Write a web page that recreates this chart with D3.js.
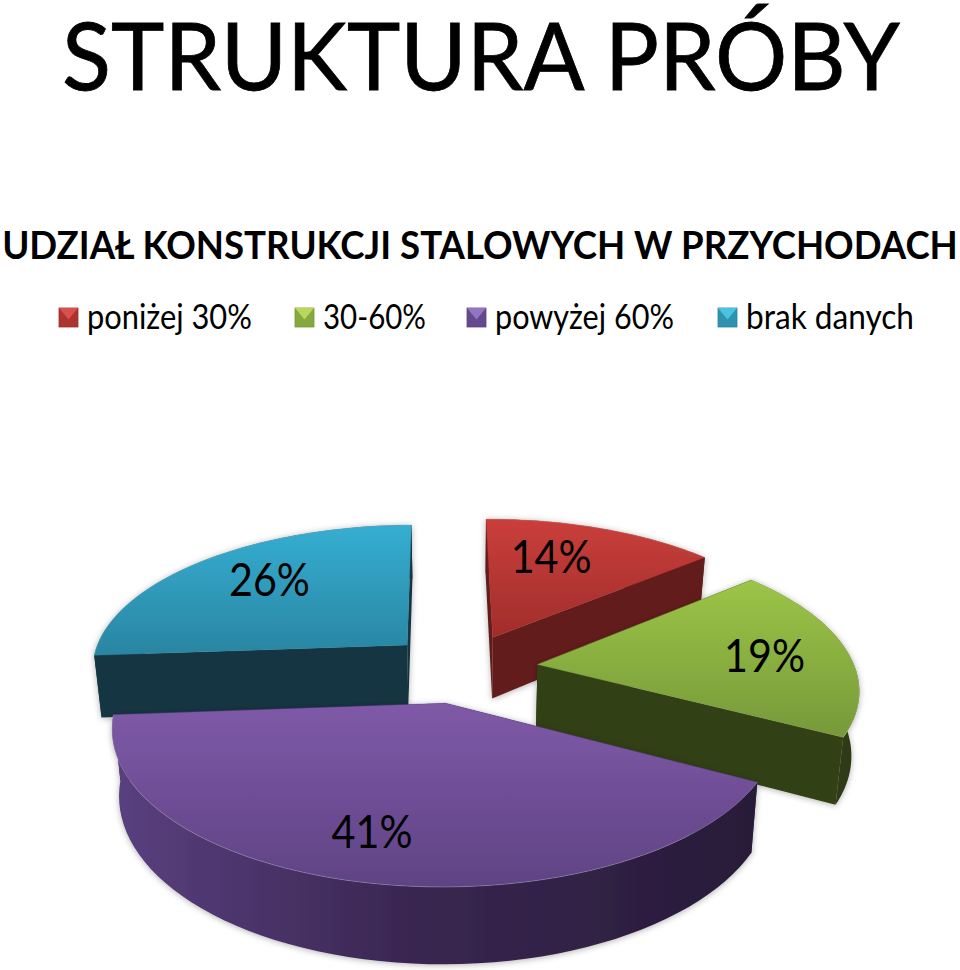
<!DOCTYPE html>
<html lang="pl">
<head>
<meta charset="utf-8">
<title>Struktura próby</title>
<script src="https://cdn.jsdelivr.net/npm/d3@7"></script>
<style>
  html, body { margin: 0; padding: 0; background: #fff; }
  svg { display: block; }
  text { font-family: Lato, "Open Sans", sans-serif; fill: #000; }
</style>
</head>
<body>
<svg id="chart" width="960" height="970" viewBox="0 0 960 970"></svg>
<script>
const title = 'STRUKTURA PRÓBY';
const subtitle = 'UDZIAŁ KONSTRUKCJI STALOWYCH W PRZYCHODACH';
const categories = ['poniżej 30%', '30-60%', 'powyżej 60%', 'brak danych'];
const values = [14, 19, 41, 26];

const topLight = ['#ca3f3b', '#9cc547', '#7f5aa8', '#35aed2'];
const topDark = ['#a02d2b', '#76993a', '#5f4384', '#2a85a1'];
const wallFlat = ['#631e1c', '#334116', '#3a2752', '#123642'];
const wallLight = ['#7a2624', '#3f5019', '#5a4080', '#1a4d5c'];
const wallDark = ['#551917', '#2c3812', '#281b38', '#103038'];
const bevelLight = ['#d9504c', '#b8d85c', '#9276c0', '#4cc2e2'];
const bevelBase = ['#ab3431', '#85a83f', '#64498f', '#2f93b0'];

// layout of the perspective
const cx = 462, cy = 668;
const radius = 317.5, radiusY = 144.5;
const tilt = 0.15, explode = 0.24;
const depth = 63, shrink = 0.98;
const rotation = 0.6 * Math.PI / 180;

const legendX = [59, 295, 467, 718];
const legendTextW = [165, 103, 179, 168];
const labelNudge = [[-21, -2], [10, 2], [-18, 10], [8, -4]];

const svg = d3.select('#chart');
const defs = svg.append('defs');

const shadow = defs.append('filter').attr('id', 'shadow')
  .attr('x', '-10%').attr('y', '-10%').attr('width', '120%').attr('height', '120%');
shadow.append('feDropShadow')
  .attr('dx', 0).attr('dy', 1).attr('stdDeviation', 3)
  .attr('flood-color', '#000').attr('flood-opacity', 0.3);

// plane coordinates -> screen, z 0 is the top face and 1 the bottom face
const project = (X, Y, z = 0) => {
  const w = 1 - tilt * Y;
  const x = radius * X / w;
  const y = radiusY * Y / w;
  return z
    ? [cx + x * shrink, cy + y + depth / w]
    : [cx + x, cy + y];
};

// squeeze a text sideways to the width it has in the picture
const fitText = (sel, x, y, width) => sel.each(function (d, i) {
  const k = width(d, i) / this.getComputedTextLength();
  d3.select(this).attr('transform', `translate(${x(d, i)},${y(d, i)}) scale(${k},1)`);
});

const pie = d3.pie().sort(null).startAngle(-rotation).endAngle(2 * Math.PI - rotation);
const slices = pie(values);
const line = d3.line();

slices.forEach((s, i) => {
  const mid = (s.startAngle + s.endAngle) / 2;
  s.ox = explode * Math.sin(mid);
  s.oy = -explode * Math.cos(mid);
  s.mid = mid;
  s.point = (a, r, z) => project(s.ox + r * Math.sin(a), s.oy - r * Math.cos(a), z);
  s.angles = d3.range(0, 61).map(k => s.startAngle + (s.endAngle - s.startAngle) * k / 60);

  const top = defs.append('linearGradient').attr('id', `top${i}`)
    .attr('x1', 0).attr('y1', 0).attr('x2', 0).attr('y2', 1);
  top.append('stop').attr('offset', '0%').attr('stop-color', topLight[i]);
  top.append('stop').attr('offset', '100%').attr('stop-color', topDark[i]);

  const wall = defs.append('linearGradient').attr('id', `wall${i}`)
    .attr('x1', 0).attr('y1', 0).attr('x2', 1).attr('y2', 0);
  wall.append('stop').attr('offset', '0%').attr('stop-color', wallLight[i]);
  wall.append('stop').attr('offset', '45%').attr('stop-color', wallFlat[i]);
  wall.append('stop').attr('offset', '100%').attr('stop-color', wallDark[i]);
});

// back to front
const drawOrder = [0, 3, 1, 2];

drawOrder.forEach(i => {
  const s = slices[i];
  const g = svg.append('g').attr('class', 'slice').attr('filter', 'url(#shadow)');

  const arcTop = s.angles.map(a => s.point(a, 1, 0));
  const arcBottom = s.angles.map(a => s.point(a, 1, 1)).reverse();

  const drawArcWall = () => g.append('path')
    .attr('d', line(arcTop.concat(arcBottom)) + 'Z')
    .attr('fill', `url(#wall${i})`);

  const drawCutWalls = () => [s.startAngle, s.endAngle].forEach(a => {
    const pts = [s.point(a, 0, 0), s.point(a, 1, 0), s.point(a, 1, 1), s.point(a, 0, 1)];
    g.append('path').attr('d', line(pts) + 'Z').attr('fill', wallFlat[i]);
  });

  // a slice facing the viewer shows its outer wall in front of the cuts
  if (Math.cos(s.mid) < -0.5) {
    drawCutWalls();
    drawArcWall();
  } else {
    drawArcWall();
    drawCutWalls();
  }

  // top face
  const face = [s.point(0, 0, 0)].concat(arcTop);
  g.append('path')
    .attr('d', line(face) + 'Z')
    .attr('fill', `url(#top${i})`)
    .attr('stroke', topDark[i])
    .attr('stroke-width', 0.6)
    .attr('stroke-opacity', 0.6);

  // pale rim where the top meets the outer wall
  g.append('path')
    .attr('d', line(arcTop))
    .attr('fill', 'none')
    .attr('stroke', '#fff')
    .attr('stroke-width', 0.8)
    .attr('stroke-opacity', 0.25);
});

// value labels
svg.append('g').selectAll('text')
  .data(slices)
  .join('text')
  .attr('text-anchor', 'middle')
  .attr('font-size', 46)
  .text(d => `${d.data}%`)
  .call(fitText,
    (d, i) => d.point(d.mid, 0.7, 0)[0] + labelNudge[i][0],
    (d, i) => d.point(d.mid, 0.7, 0)[1] + labelNudge[i][1] + 16,
    () => 81);

// titles
svg.append('text')
  .attr('text-anchor', 'middle')
  .attr('font-size', 93)
  .attr('stroke', '#000')
  .attr('stroke-width', 0.8)
  .text(title)
  .call(fitText, () => 481, () => 90, () => 838);

svg.append('text')
  .attr('text-anchor', 'middle')
  .attr('font-size', 38)
  .attr('font-weight', 700)
  .text(subtitle)
  .call(fitText, () => 480, () => 259, () => 956);

// legend
const legendY = 308, box = 19;
const legend = svg.append('g').selectAll('g')
  .data(categories)
  .join('g')
  .attr('transform', (d, i) => `translate(${legendX[i]},${legendY})`);

legend.append('rect')
  .attr('width', box).attr('height', box)
  .attr('fill', (d, i) => bevelBase[i])
  .attr('stroke', (d, i) => topDark[i])
  .attr('stroke-width', 0.8);

legend.append('path')
  .attr('d', line([[0, 0], [box, 0], [box / 2, box * 0.6]]) + 'Z')
  .attr('fill', (d, i) => bevelLight[i]);

legend.append('text')
  .attr('font-size', 34)
  .text(d => d)
  .call(fitText, () => 28, () => 21, (d, i) => legendTextW[i]);
</script>
</body>
</html>
